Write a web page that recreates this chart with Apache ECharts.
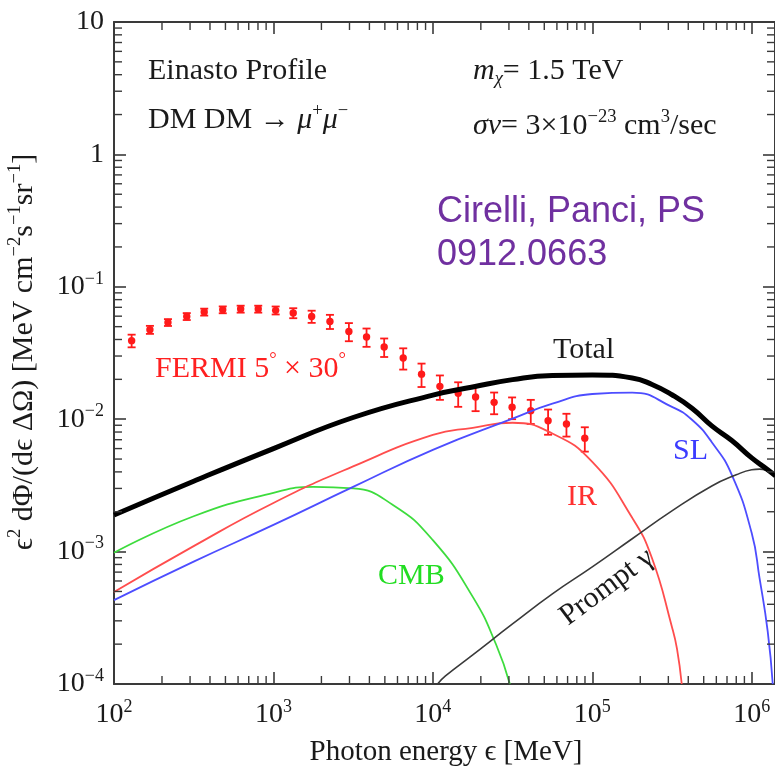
<!DOCTYPE html>
<html>
<head>
<meta charset="utf-8">
<script src="https://cdn.jsdelivr.net/npm/echarts@6/dist/echarts.min.js"></script>
<style>
  html, body { margin: 0; padding: 0; background: #fff; }
  #chart { width: 775px; height: 766px; }
</style>
</head>
<body>
<div id="chart"></div>
<script>
// Photon energy in MeV; spectra as e^2 dPhi/(de dOmega) in MeV cm^-2 s^-1 sr^-1
const totalE = [100, 316, 1000, 3160, 1.0e4, 1.78e4, 3.16e4, 5.62e4, 1.0e5, 1.78e5, 2.37e5, 3.16e5, 4.22e5, 5.62e5, 7.5e5, 1.0e6, 1.26e6, 1.41e6];
const totalV = [1.89e-3, 3.4e-3, 6.0e-3, 1.03e-2, 1.52e-2, 1.75e-2, 1.99e-2, 2.14e-2, 2.16e-2, 2.05e-2, 1.83e-2, 1.53e-2, 1.21e-2, 8.9e-3, 6.9e-3, 5.1e-3, 4.15e-3, 3.73e-3];

const slE = [100, 316, 1000, 3160, 1.0e4, 3.16e4, 5.62e4, 1.0e5, 1.78e5, 3.16e5, 4.22e5, 5.62e5, 7.5e5, 1.0e6, 1.12e6, 1.26e6, 1.355e6];
const slV = [4.3e-4, 8.4e-4, 1.59e-3, 3.08e-3, 5.87e-3, 1.01e-2, 1.31e-2, 1.55e-2, 1.59e-2, 1.24e-2, 9.9e-3, 6.7e-3, 3.8e-3, 1.38e-3, 6.3e-4, 2.5e-4, 1.0e-4];

const irE = [100, 316, 1000, 3160, 1.0e4, 1.78e4, 3.16e4, 5.62e4, 1.0e5, 1.78e5, 2.37e5, 3.16e5, 3.4e5, 3.64e5];
const irV = [4.95e-4, 1.10e-3, 2.33e-3, 4.4e-3, 7.6e-3, 8.6e-3, 9.4e-3, 7.8e-3, 4.76e-3, 1.8e-3, 8.9e-4, 2.7e-4, 1.84e-4, 1.0e-4];

const cmbE = [100, 316, 1000, 1780, 3160, 5620, 1.0e4, 1.78e4, 2.5e4, 3.04e4];
const cmbV = [9.8e-4, 1.85e-3, 2.78e-3, 3.08e-3, 3.0e-3, 2.25e-3, 1.22e-3, 4.55e-4, 1.97e-4, 1.0e-4];

const promptE = [1.07e4, 1.2e4, 1.78e4, 3.16e4, 5.62e4, 1.0e5, 1.78e5, 3.16e5, 5.62e5, 8.0e5, 1.0e6, 1.12e6, 1.26e6, 1.41e6];
const promptV = [1.0e-4, 1.15e-4, 1.66e-4, 2.84e-4, 4.79e-4, 7.66e-4, 1.25e-3, 2.03e-3, 3.13e-3, 3.80e-3, 4.15e-3, 4.2e-3, 4.07e-3, 3.8e-3];

// FERMI 5x30 deg region: energy, flux and 1-sigma error
const fermiE = [129, 168, 218, 286, 368, 481, 623, 803, 1033, 1331, 1737, 2262, 2974, 3838, 4951, 6518, 8492, 11070, 14420, 18540, 24230, 31410, 41130, 52830, 68870, 89770];
const fermiV = [0.0392, 0.0474, 0.0538, 0.0597, 0.0645, 0.0671, 0.0679, 0.0679, 0.0664, 0.0634, 0.0597, 0.0547, 0.0460, 0.0418, 0.0351, 0.0290, 0.0219, 0.0177, 0.0157, 0.0147, 0.0134, 0.0123, 0.0116, 0.00973, 0.00919, 0.00719];
const fermiErr = [0.0043, 0.0033, 0.0032, 0.0036, 0.0039, 0.0040, 0.0041, 0.0041, 0.0046, 0.0055, 0.0063, 0.0067, 0.0072, 0.0066, 0.0056, 0.0053, 0.0044, 0.0037, 0.0033, 0.0032, 0.0025, 0.0023, 0.0024, 0.0021, 0.0018, 0.0015];

// Axis ranges
const xMin = 100, xMax = 1.4e6;
const yMin = 1e-4, yMax = 10;

const serif = '"Liberation Serif", "DejaVu Serif", serif';
const sans = '"Liberation Sans", Arial, sans-serif';
const axisColor = '#3a3a3a';
const textColor = '#1a1a1a';

const zip = (a, b) => a.map((v, i) => [v, b[i]]);

// minor tick values 2..9 x 10^n inside a range
function minorValues(lo, hi) {
  const out = [];
  for (let d = Math.floor(Math.log10(lo)); d <= Math.ceil(Math.log10(hi)); d++) {
    for (let k = 2; k <= 9; k++) {
      const v = k * Math.pow(10, d);
      if (v > lo && v < hi) out.push(v);
    }
  }
  return out;
}
const xMinor = minorValues(xMin, xMax);
const yMinor = minorValues(yMin, yMax);

function isDecade(v) {
  const l = Math.log10(v);
  return Math.abs(l - Math.round(l)) < 1e-6;
}
function supLabel(v) {
  if (!isDecade(v)) return '';
  const n = Math.round(Math.log10(v));
  if (n === 1) return '{b|10}';
  if (n === 0) return '{b|1}';
  return '{b|10}{s|' + (n < 0 ? '\u2212' + (-n) : n) + '}';
}
const tickRich = {
  b: { fontFamily: serif, fontSize: 28, lineHeight: 34, color: textColor },
  s: { fontFamily: serif, fontSize: 18, lineHeight: 20, verticalAlign: 'top', color: textColor }
};

const logAxis = (pos, lo, hi, labels) => ({
  type: 'log', logBase: 10, position: pos, min: lo, max: hi,
  axisLine: { show: true, onZero: false, lineStyle: { color: axisColor, width: 2 } },
  splitLine: { show: false },
  axisTick: { show: true, inside: true, length: 12, lineStyle: { color: axisColor, width: 1.6 } },
  axisLabel: labels ? { show: true, margin: labels, formatter: supLabel, rich: tickRich } : { show: false }
});

function richSet(size, color, family) {
  const f = family || serif;
  return {
    t: { fontFamily: f, fontSize: size, lineHeight: size * 1.2, fill: color },
    i: { fontFamily: f, fontSize: size, lineHeight: size * 1.2, fontStyle: 'italic', fill: color },
    s: { fontFamily: f, fontSize: size * 0.62, lineHeight: size * 0.7, verticalAlign: 'top', fill: color },
    sub: { fontFamily: f, fontSize: size * 0.62, lineHeight: size * 0.7, verticalAlign: 'bottom', fontStyle: 'italic', fill: color }
  };
}
function label(x, y, text, size, color, family) {
  return {
    type: 'text', x: x, y: y, silent: true,
    style: { text: text, rich: richSet(size, color, family), align: 'left', verticalAlign: 'middle' }
  };
}

const chart = echarts.init(document.getElementById('chart'), null, { renderer: 'canvas' });

const lineSeries = (name, e, v, color, width) => ({
  name: name, type: 'line', xAxisIndex: 0, yAxisIndex: 0,
  data: zip(e, v), showSymbol: false, smooth: 0.5,
  lineStyle: { color: color, width: width }, clip: true, silent: true
});

// minor ticks on the frame: thin rect markers sitting on each edge, pushed inward
const minorLen = 8;
const tickMarks = (data, size, offset) => ({
  type: 'scatter', xAxisIndex: 0, yAxisIndex: 0, silent: true, clip: false,
  data: data, symbol: 'rect', symbolSize: size, symbolOffset: offset,
  itemStyle: { color: axisColor, opacity: 1 }, z: 3
});

chart.setOption({
  animation: false,
  backgroundColor: '#fff',
  grid: { left: 114, right: 0, top: 22, bottom: 82, containLabel: false, outerBoundsMode: 'none' },
  xAxis: [
    logAxis('bottom', xMin, xMax, 14),
    logAxis('top', xMin, xMax, 0)
  ],
  yAxis: [
    logAxis('left', yMin, yMax, 10),
    logAxis('right', yMin, yMax, 0)
  ],
  series: [
    tickMarks(xMinor.map(v => [v, yMin]), [1.4, minorLen], [0, -minorLen / 2]),
    tickMarks(xMinor.map(v => [v, yMax]), [1.4, minorLen], [0, minorLen / 2]),
    tickMarks(yMinor.map(v => [xMin, v]), [minorLen, 1.4], [minorLen / 2, 0]),
    tickMarks(yMinor.map(v => [xMax, v]), [minorLen, 1.4], [-minorLen / 2, 0]),
    lineSeries('CMB', cmbE, cmbV, '#3ddc3d', 1.8),
    lineSeries('IR', irE, irV, '#ff4d4d', 1.8),
    lineSeries('SL', slE, slV, '#4d4dff', 1.8),
    lineSeries('Prompt', promptE, promptV, '#3a3a3a', 1.6),
    lineSeries('Total', totalE, totalV, '#000000', 5),
    {
      name: 'FERMI', type: 'custom', xAxisIndex: 0, yAxisIndex: 0, silent: true,
      data: fermiE.map((e, i) => [e, fermiV[i], fermiErr[i]]),
      encode: { x: 0, y: 1 },
      renderItem: function (params, api) {
        const e = api.value(0), v = api.value(1), s = api.value(2);
        const c = api.coord([e, v]);
        const hi = api.coord([e, v + s]);
        const lo = api.coord([e, v - s]);
        const w = 4;
        const st = { stroke: '#ff1a1a', lineWidth: 1.8 };
        return {
          type: 'group', children: [
            { type: 'line', shape: { x1: c[0], y1: hi[1], x2: c[0], y2: lo[1] }, style: st },
            { type: 'line', shape: { x1: c[0] - w, y1: hi[1], x2: c[0] + w, y2: hi[1] }, style: st },
            { type: 'line', shape: { x1: c[0] - w, y1: lo[1], x2: c[0] + w, y2: lo[1] }, style: st },
            { type: 'circle', shape: { cx: c[0], cy: c[1], r: 3.7 }, style: { fill: '#ff1a1a' } }
          ]
        };
      }
    }
  ],
  graphic: [
    label(148, 71, '{t|Einasto Profile}', 30, textColor),
    label(148, 120, '{t|DM DM \u2192 }{i|\u03BC}{s|+}{i|\u03BC}{s|\u2212}', 30, textColor),
    label(473, 71, '{i|m}{sub|\u03C7}{t|= 1.5 TeV}', 30, textColor),
    label(473, 126, '{i|\u03C3v}{t|= 3\u00D710}{s|\u221223}{t| cm}{s|3}{t|/sec}', 30, textColor),
    label(437, 212, '{t|Cirelli, Panci, PS}', 36, '#7030a0', sans),
    label(437, 255, '{t|0912.0663}', 36, '#7030a0', sans),
    label(155, 369, '{t|FERMI 5}{s|\u00B0}{t| \u00D7 30}{s|\u00B0}', 30, '#ff2020'),
    label(553, 350, '{t|Total}', 30, textColor),
    label(673, 451, '{t|SL}', 30, '#3c3cff'),
    label(567, 497, '{t|IR}', 30, '#ff3030'),
    label(378, 576, '{t|CMB}', 30, '#22dd22'),
    {
      type: 'text', x: 607, y: 587, rotation: 0.64, silent: true,
      style: { text: '{t|Prompt \u03B3}', rich: richSet(30, textColor), align: 'center', verticalAlign: 'middle' }
    },
    {
      type: 'text', x: 446, y: 752, silent: true,
      style: { text: '{t|Photon energy \u03F5 [MeV]}', rich: richSet(29, textColor), align: 'center', verticalAlign: 'middle' }
    },
    {
      type: 'text', x: 24, y: 352, rotation: Math.PI / 2, silent: true,
      style: {
        text: '{t|\u03F5}{s|2}{t| d\u03A6/(d\u03F5 \u0394\u03A9) [MeV cm}{s|\u22122}{t|s}{s|\u22121}{t|sr}{s|\u22121}{t|]}',
        rich: richSet(30, textColor), align: 'center', verticalAlign: 'middle'
      }
    }
  ]
});
</script>
</body>
</html>
